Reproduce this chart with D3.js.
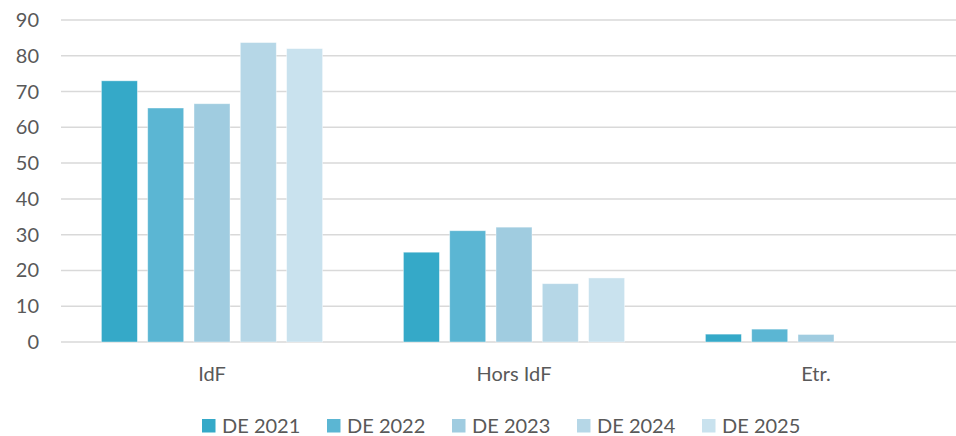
<!DOCTYPE html>
<html lang="fr">
<head>
<meta charset="utf-8">
<title>DE par zone</title>
<script src="https://cdn.jsdelivr.net/npm/d3@7"></script>
<style>
  body { margin: 0; background: #fff; }
  text { font-family: Lato, "Open Sans", sans-serif; fill: #595959; }
</style>
</head>
<body>
<script>
var categories = ["IdF", "Hors IdF", "Etr."];
var series = ["DE 2021", "DE 2022", "DE 2023", "DE 2024", "DE 2025"];
var values = [
  [73, 25.1, 2.2],
  [65.4, 31.1, 3.6],
  [66.6, 32.1, 2.1],
  [83.7, 16.3, 0],
  [82, 17.9, 0]
];
var colors = ["#35a9c8", "#5bb6d3", "#a0cce0", "#b6d7e7", "#c9e2ee"];
var yTicks = [0, 10, 20, 30, 40, 50, 60, 70, 80, 90];

var w = 956, h = 436;
var plotLeft = 61, plotRight = 967, plotTop = 20, plotBottom = 342;

var svg = d3.select("body").append("svg").attr("width", w).attr("height", h);

var x0 = d3.scaleBand().domain(categories).range([plotLeft, plotRight]);
var y = d3.scaleLinear().domain([0, 90]).range([plotBottom, plotTop]);
var step = 46.3, barW = 36;

// grid lines
svg.selectAll("line.grid").data(yTicks).enter().append("line")
  .attr("x1", plotLeft).attr("x2", w)
  .attr("y1", function (d) { return y(d); })
  .attr("y2", function (d) { return y(d); })
  .attr("stroke", "#d9d9d9")
  .attr("stroke-width", 1.5);

// y tick labels
svg.selectAll("text.ytick").data(yTicks).enter().append("text")
  .text(function (d) { return d; })
  .attr("x", 39)
  .attr("y", function (d) { return y(d) + 7; })
  .attr("text-anchor", "end")
  .attr("font-size", "20px");

// bars
series.forEach(function (s, si) {
  svg.selectAll("rect.s" + si).data(values[si]).enter().append("rect")
    .attr("x", function (d, i) {
      return x0(categories[i]) + x0.bandwidth() / 2 + (si - 2) * step - barW / 2;
    })
    .attr("y", function (d) { return y(d); })
    .attr("width", barW)
    .attr("height", function (d) { return y(0) - y(d); })
    .attr("fill", colors[si])
    .attr("stroke", "#fff")
    .attr("stroke-opacity", 0.5)
    .attr("stroke-width", 0.8);
});

// category labels
svg.selectAll("text.cat").data(categories).enter().append("text")
  .text(function (d) { return d; })
  .attr("x", function (d) { return x0(d) + x0.bandwidth() / 2; })
  .attr("y", 381)
  .attr("text-anchor", "middle")
  .attr("font-size", "20px");

// legend
var legend = svg.selectAll("g.leg").data(series).enter().append("g")
  .attr("transform", function (d, i) { return "translate(" + (202 + i * 125) + ",0)"; });
legend.append("rect")
  .attr("x", 0).attr("y", 419).attr("width", 13.5).attr("height", 13.5)
  .attr("fill", function (d, i) { return colors[i]; });
legend.append("text")
  .text(function (d) { return d; })
  .attr("x", 20).attr("y", 432.5)
  .attr("font-size", "20px");
</script>
</body>
</html>
